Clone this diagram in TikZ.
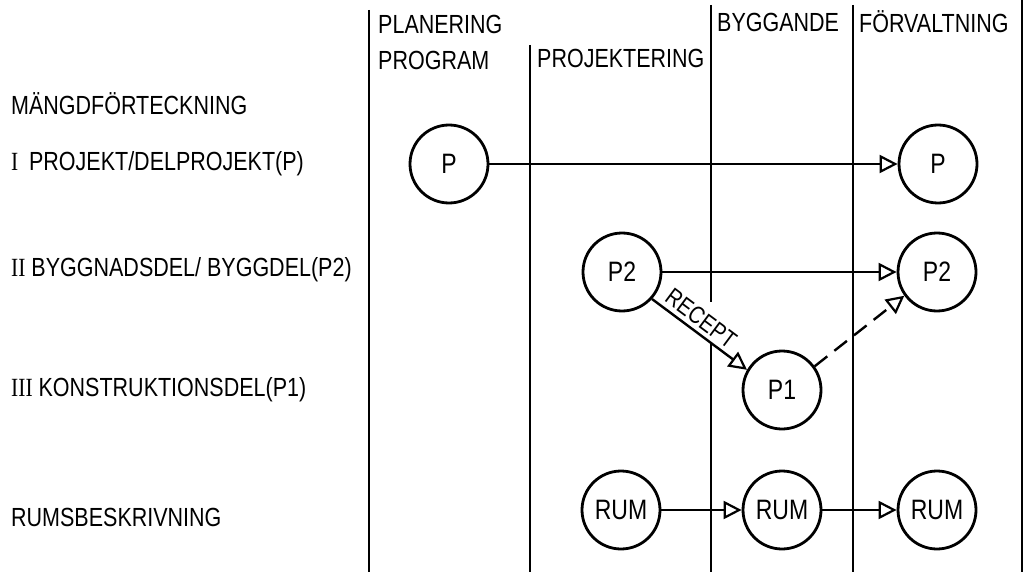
\documentclass[tikz,border=0pt]{standalone}
\usepackage{graphicx}
\usepackage{fontspec}
\setmainfont{Liberation Sans}
\newfontfamily\numfont{Liberation Serif}
\usetikzlibrary{arrows.meta}
\newcommand{\tall}[1]{\scalebox{1}[1.22]{#1}}

\begin{document}
\begin{tikzpicture}[x=1pt,y=1pt,line width=2.4pt,
  >={Triangle[open,length=18pt,width=18pt,line width=2.2pt]},
  lab/.style={font=\fontsize{21.5}{24}\selectfont,inner sep=0pt,anchor=west},
  obj/.style={draw,circle,line width=2.8pt,minimum size=78pt,inner sep=0pt,font=\fontsize{23}{26}\selectfont},
  tag/.style={font=\fontsize{20}{22}\selectfont,sloped,above=3pt,inner sep=1pt}]
\useasboundingbox (0,0) rectangle (1027,-572);
% column rules
\draw (369,-10) -- (369,-572);
\draw (530,-45) -- (530,-572);
\draw (711,-5) -- (711,-302);
\draw (711,-343) -- (711,-572);
\draw (853,-5) -- (853,-572);
\draw (1022,0) -- (1022,-572);
% phase headings
\node[lab] (plan) at (377,-24) {\tall{PLANERING}};
\node[lab] (prog) at (377,-60) {\tall{PROGRAM}};
\node[lab] (proj) at (536,-58) {\tall{PROJEKTERING}};
\node[lab] (bygg) at (716,-22) {\tall{BYGGANDE}};
\node[lab] (forv) at (858,-22) {\tall{FÖRVALTNING}};
% row labels
\node[lab] (mangd) at (10,-104) {\tall{MÄNGDFÖRTECKNING}};
\node[lab] (niv1) at (10,-164) {\tall{{\numfont I}\enspace PROJEKT/DELPROJEKT(P)}};
\node[lab] (niv2) at (10,-270) {\tall{{\numfont II} BYGGNADSDEL/ BYGGDEL(P2)}};
\node[lab] (niv3) at (10,-390) {\tall{{\numfont III} KONSTRUKTIONSDEL(P1)}};
\node[lab] (rumlab) at (10,-517) {\tall{RUMSBESKRIVNING}};
% objects
\node[obj] (pa) at (449,-164) {\tall{P}};
\node[obj] (pb) at (938,-164) {\tall{P}};
\node[obj] (p2a) at (622,-272) {\tall{P2}};
\node[obj] (p2b) at (937,-272) {\tall{P2}};
\node[obj] (p1) at (782,-390) {\tall{P1}};
\node[obj] (ruma) at (621,-510) {\tall{RUM}};
\node[obj] (rumb) at (782,-510) {\tall{RUM}};
\node[obj] (rumc) at (937,-510) {\tall{RUM}};
% flows
\draw[->] (pa) -- (pb);
\draw[->] (p2a) -- (p2b);
\draw[->] (p2a.-42) -- node[tag,pos=0.43] {\tall{RECEPT}} (p1.150);
\draw[->,dash pattern=on 16pt off 9pt] (p1.36) -- (p2b.216);
\draw[->] (ruma) -- (rumb);
\draw[->] (rumb) -- (rumc);
\end{tikzpicture}
\end{document}
